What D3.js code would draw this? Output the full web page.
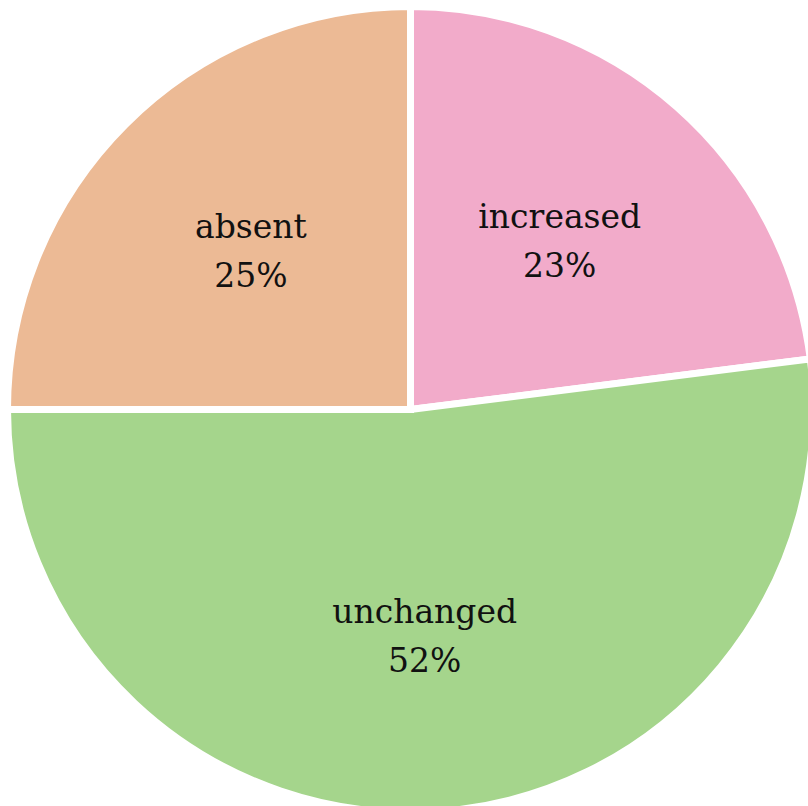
<!DOCTYPE html>
<html>
<head>
<meta charset="utf-8">
<script src="https://cdn.jsdelivr.net/npm/d3@7"></script>
<style>
  html, body { margin: 0; padding: 0; background: #fff; }
  svg text { font-family: "DejaVu Serif", serif; fill: #111; }
</style>
</head>
<body>
<svg id="pie" width="808" height="806"></svg>
<script>
// slice data, clockwise from 12 o'clock
const labels = ['increased', 'unchanged', 'absent'];
const values = [23, 52, 25];
const colors = ['#f2abca', '#a5d58c', '#ecba95'];

const cx = 410.5, cy = 409.5, radius = 403;

const svg = d3.select('#pie');
const g = svg.append('g').attr('transform', `translate(${cx},${cy})`);

let data = labels.map((label, i) => ({ label, value: values[i], color: colors[i] }));
let total = d3.sum(values);

let sliceGenerator = d3.pie().value((d) => d.value).sort(null);
let arcData = sliceGenerator(data);

let arcGenerator = d3.arc().innerRadius(0).outerRadius(radius);
// labels sit a bit past the middle of each slice
let labelArc = d3.arc().innerRadius(radius * 0.56).outerRadius(radius * 0.56);

arcData.forEach((arc) => {
  g.append('path')
    .attr('d', arcGenerator(arc))
    .attr('fill', arc.data.color)
    .attr('stroke', 'white')
    .attr('stroke-width', 7);
});

arcData.forEach((arc) => {
  let [x, y] = labelArc.centroid(arc);
  let t = g.append('text')
    .attr('text-anchor', 'middle')
    .attr('font-size', 33);
  t.append('tspan').attr('x', x).attr('y', y - 12).text(arc.data.label);
  t.append('tspan').attr('x', x).attr('y', y + 37)
    .text(Math.round(arc.data.value / total * 100) + '%');
});
</script>
</body>
</html>
